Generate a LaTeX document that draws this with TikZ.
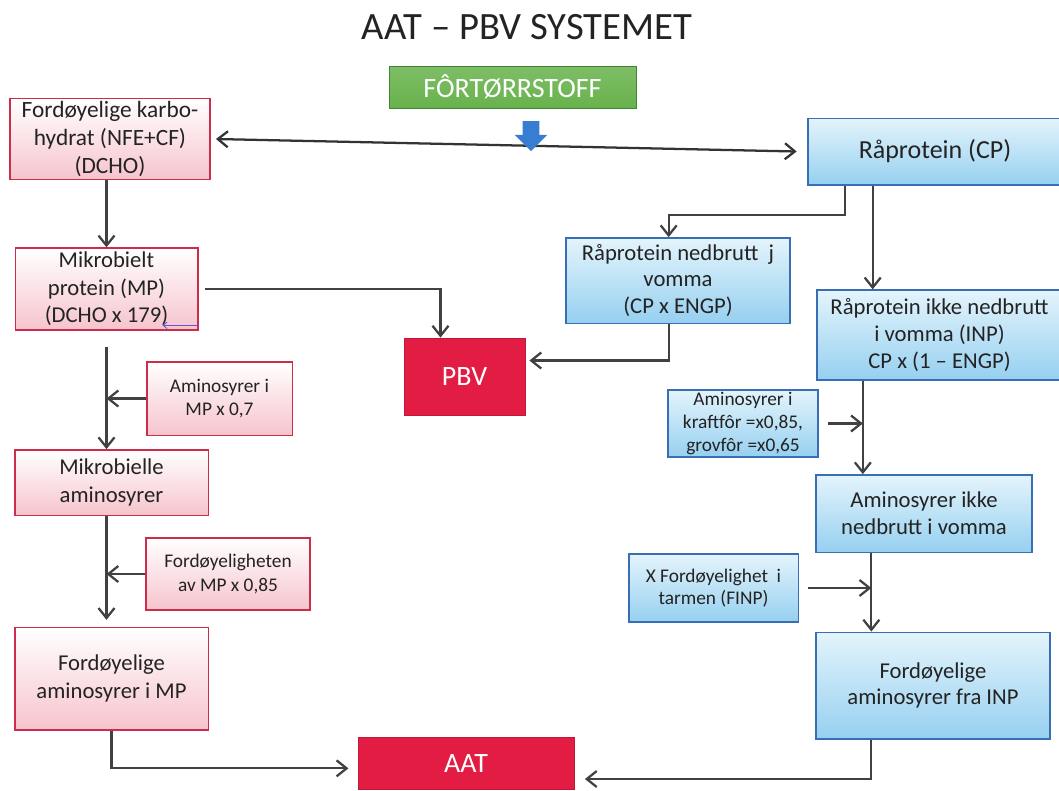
\documentclass[tikz,border=0pt]{standalone}
\usepackage{fontspec}
\setmainfont{Carlito}
\usetikzlibrary{arrows.meta,shapes.arrows}

\definecolor{boxred}{RGB}{205,45,75}
\definecolor{pinkfill}{RGB}{246,196,205}
\definecolor{boxblue}{RGB}{55,110,180}
\definecolor{bluetop}{RGB}{228,244,252}
\definecolor{bluefill}{RGB}{150,208,240}
\definecolor{keyred}{RGB}{226,28,66}
\definecolor{feedgreen}{RGB}{104,178,76}
\definecolor{feedgreendark}{RGB}{62,135,52}
\definecolor{feedblue}{RGB}{55,125,210}
\definecolor{linegray}{RGB}{65,65,65}
\definecolor{textgray}{RGB}{35,35,35}
\definecolor{pen}{RGB}{95,85,205}

\tikzset{
  redbox/.style={draw=boxred, line width=1pt, rectangle, top color=white, bottom color=pinkfill,
    text=textgray, align=center, inner sep=2pt, font=\fontsize{17}{20.5}\selectfont},
  redside/.style={redbox, font=\fontsize{14.5}{17.5}\selectfont},
  bluebox/.style={draw=boxblue, line width=1pt, rectangle, top color=bluetop, bottom color=bluefill,
    text=textgray, align=center, inner sep=2pt, font=\fontsize{17}{20}\selectfont},
  blueside/.style={bluebox, font=\fontsize{14.5}{17}\selectfont},
  keybox/.style={rectangle, fill=keyred, draw=keyred!85!black, text=white, font=\fontsize{21}{24}\selectfont},
  arr/.style={->, line width=1.7pt, draw=linegray},
}

\begin{document}
\begin{tikzpicture}[x=0.75pt, y=-0.75pt, >={Straight Barb[length=7.5pt,width=12pt]}]
				\useasboundingbox[fill=white] (0,0) rectangle (1059,790);

				% Title
				\node[text=textgray, font=\fontsize{29}{32}\selectfont] (title) at (527,27) {AAT – PBV SYSTEMET};

				% Feed dry matter
				\node[rectangle, draw=feedgreendark, top color=feedgreen!85!white, bottom color=feedgreen, text=white,
					minimum width=185pt, minimum height=31.5pt, font=\fontsize{21}{24}\selectfont] (feed) at (512.5,87) {FÔRTØRRSTOFF};

				% Carbohydrates
				\node[redbox, minimum width=150pt, minimum height=58.5pt, font=\fontsize{17.5}{21}\selectfont] (karbo) at (110,139) {Fordøyelige karbo-\\hydrat (NFE+CF)\\(DCHO)};

				% Crude protein
				\node[bluebox, minimum width=190.5pt, minimum height=50pt, font=\fontsize{19.5}{22}\selectfont] (cp) at (935,151.5) {Råprotein (CP)};
				\draw[<->, line width=1.7pt, draw=black!80] ([xshift=4pt]karbo.east) -- ([xshift=-8pt]cp.west);
				\node[single arrow, fill=feedblue, minimum height=22.5pt, minimum width=24pt, inner sep=6pt,
					single arrow head extend=6pt, single arrow head indent=0pt, shape border rotate=270] (drop) at (531,132) {};

				% Microbial protein
				\node[redbox, minimum width=137pt, minimum height=61.5pt] (mikrobMP) at (106.5,289) {Mikrobielt\\protein (MP)\\(DCHO x 179)};
				\draw[arr] (karbo.south -| mikrobMP.north) -- (mikrobMP.north);
				\draw[->, line width=0.6pt, draw=pen, >={Straight Barb[length=3pt,width=5pt]}] ([yshift=4pt]mikrobMP.south east) -- ++(-27pt,0);

				% PBV
				\node[keybox, minimum width=91pt, minimum height=58pt] (pbv) at (464.5,376.5) {PBV};
				\draw[arr] ([xshift=5pt]mikrobMP.east) -| ([xshift=-18pt]pbv.north);

				% Microbial amino acids
				\node[redside, minimum width=109pt, minimum height=55pt] (aminoMP) at (219.5,398.5) {Aminosyrer i\\MP x 0,7};
				\node[redbox, minimum width=145pt, minimum height=49pt] (mikrobAS) at (111.5,482.5) {Mikrobielle\\aminosyrer};
				\draw[arr] ([yshift=-12pt]mikrobMP.south) -- (mikrobMP.south |- mikrobAS.north);
				\draw[arr] (aminoMP.west) -- (aminoMP.west -| mikrobMP.south);

				% Digestible amino acids in MP
				\node[redside, minimum width=123pt, minimum height=54pt] (fordMP) at (228,574) {Fordøyeligheten\\av MP x 0,85};
				\node[redbox, minimum width=145pt, minimum height=77pt] (fordASMP) at (111.5,678.5) {Fordøyelige\\aminosyrer i MP};
				\draw[arr, shorten >=5pt] (mikrobAS.south -| mikrobMP.south) -- (mikrobMP.south |- fordASMP.north);
				\draw[arr] (fordMP.west) -- (fordMP.west -| mikrobMP.south);

				% AAT
				\node[keybox, minimum width=162pt, minimum height=39pt] (aat) at (466,763) {AAT};
				\draw[arr] (fordASMP.south) |- ([xshift=-7pt,yshift=-4pt]aat.west);

				% Degraded in the rumen
				\node[bluebox, minimum width=168pt, minimum height=64pt] (nedbrutt) at (678,280.5) {Råprotein nedbrutt\ \ j\\vomma\\(CP x ENGP)};
				\coordinate (cpA) at ([xshift=28pt]cp.south west);
				\coordinate (cpB) at ([xshift=49pt]cp.south west);
				\draw[arr] (cpA) -- ++(0,-22pt) -| ([xshift=-7pt]nedbrutt.north);
				\draw[arr] ([xshift=-7pt]nedbrutt.south) |- ([xshift=3pt,yshift=12pt]pbv.east);

				% Not degraded in the rumen
				\node[bluebox, minimum width=184pt, minimum height=67.5pt] (ikke) at (939.5,335) {Råprotein ikke nedbrutt\\i vomma (INP)\\CP x (1 – ENGP)};
				\draw[arr] (cpB) -- (cpB |- ikke.north);

				% Amino acids not degraded
				\node[blueside, minimum width=112.5pt, minimum height=50pt] (kraftfor) at (743,423.5) {Aminosyrer i\\kraftfôr =x0,85,\\grovfôr =x0,65};
				\node[bluebox, minimum width=162pt, minimum height=58pt] (ASikke) at (924,513.5) {Aminosyrer ikke\\nedbrutt i vomma};
				\coordinate (inpA) at ([xshift=35pt]ikke.south west);
				\draw[arr] (inpA) -- (inpA |- ASikke.north);
				\draw[arr] ([xshift=7pt]kraftfor.east) -- (kraftfor.east -| inpA);

				% Digestible amino acids from INP
				\node[blueside, minimum width=127pt, minimum height=51pt] (finp) at (713.5,588) {X Fordøyelighet\ \ i\\tarmen (FINP)};
				\node[bluebox, minimum width=175.5pt, minimum height=80pt] (fordINP) at (933,685.5) {Fordøyelige\\aminosyrer fra INP};
				\coordinate (inpB) at ([xshift=42pt]ASikke.south west);
				\draw[arr] (inpB) -- (inpB |- fordINP.north);
				\draw[arr] ([xshift=7pt]finp.east) -- (finp.east -| inpB);
				\draw[arr] (fordINP.south -| inpB) |- ([xshift=8pt,yshift=-12pt]aat.east);
			\end{tikzpicture}
\end{document}
